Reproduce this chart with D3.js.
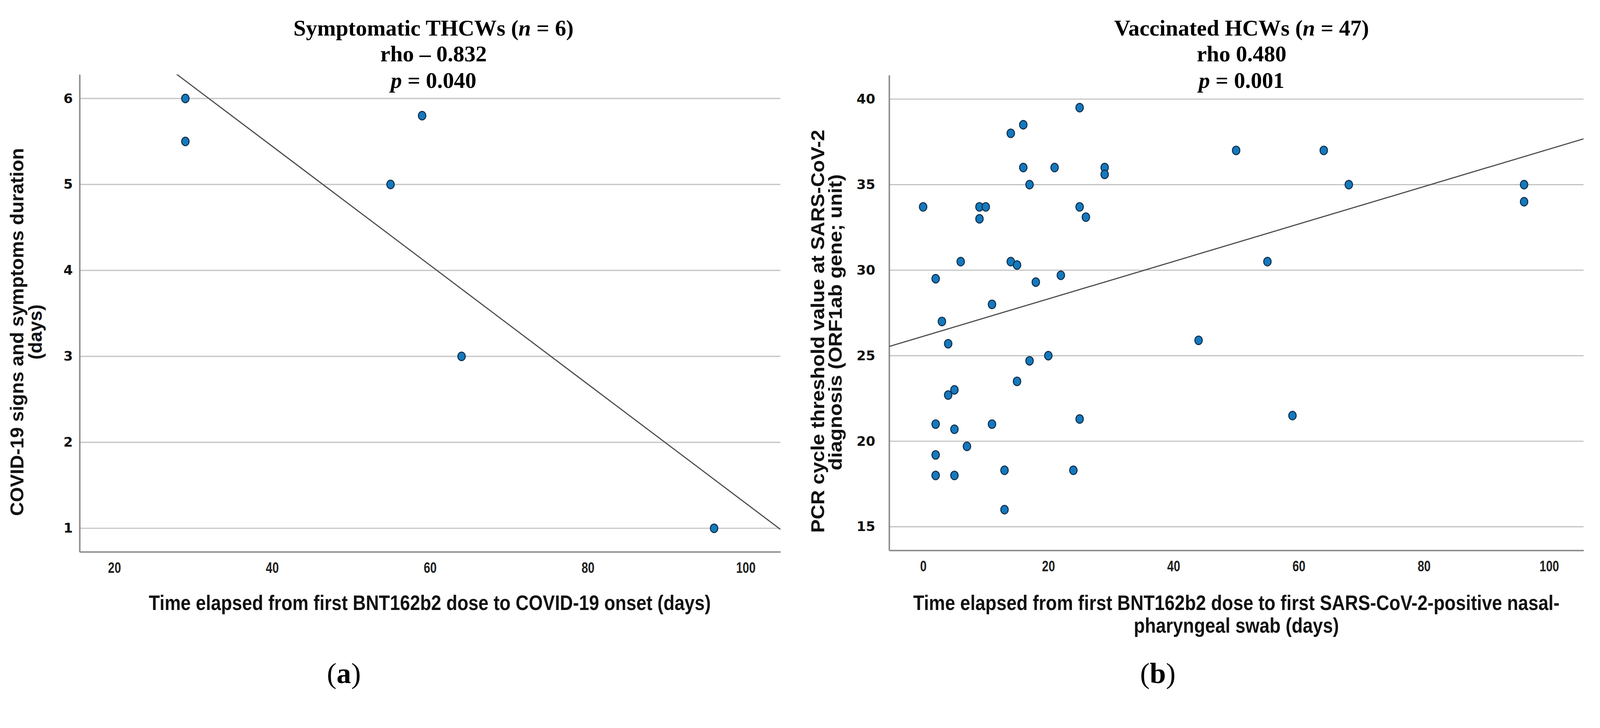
<!DOCTYPE html>
<html>
<head>
<meta charset="utf-8">
<script src="https://cdn.jsdelivr.net/npm/d3@7"></script>
<style>
  html, body { margin: 0; padding: 0; background: #fff; overflow: hidden; }
  svg { display: block; width: 100vw; height: 100vh; }
</style>
</head>
<body>
<svg id="chart" viewBox="0 0 4281 1863" preserveAspectRatio="xMidYMin meet"></svg>
<script>
// panel (a): symptomatic HCWs
const daysA = [29, 29, 55, 59, 64, 96];
const durationA = [6, 5.5, 5, 5.8, 3, 1];
const xTicksA = [20, 40, 60, 80, 100];
const yTicksA = [1, 2, 3, 4, 5, 6];

// panel (b): vaccinated HCWs
const daysB = [25, 16, 14, 16, 21, 29, 29, 17, 0, 9, 10, 9, 25, 26,
  6, 14, 15, 2, 22, 18, 11, 3, 4, 20, 17, 15, 5, 4, 2, 11, 25, 5, 7, 2, 2, 5, 13, 24, 13,
  50, 64, 68, 96, 96, 55, 44, 59];
const ctB = [39.5, 38.5, 38, 36, 36, 36, 35.6, 35, 33.7, 33.7, 33.7, 33, 33.7, 33.1,
  30.5, 30.5, 30.3, 29.5, 29.7, 29.3, 28, 27, 25.7, 25, 24.7, 23.5, 23, 22.7, 21, 21, 21.3, 20.7, 19.7, 19.2, 18, 18, 18.3, 18.3, 16,
  37, 37, 35, 35, 34, 30.5, 25.9, 21.5];
const xTicksB = [0, 20, 40, 60, 80, 100];
const yTicksB = [15, 20, 25, 30, 35, 40];

const svg = d3.select("#chart");

function fit(xs, ys) {
  const mx = d3.mean(xs), my = d3.mean(ys);
  let sxy = 0, sxx = 0;
  xs.forEach((x, i) => { sxy += (x - mx) * (ys[i] - my); sxx += (x - mx) * (x - mx); });
  const b = sxy / sxx;
  return { b: b, a: my - b * mx };
}

// squeeze a text horizontally (in its own frame) to a wanted length
function squeeze(sel, base, len) {
  const w = sel.node().getComputedTextLength();
  sel.attr("transform", base + ` scale(${len / w},1)`);
}

function drawPanel(cfg) {
  const x = d3.scaleLinear().domain(cfg.xDomain).range([cfg.left, cfg.right]);
  const y = d3.scaleLinear().domain(cfg.yDomain).range([cfg.bottom, cfg.top]);
  const g = svg.append("g");

  g.append("clipPath").attr("id", cfg.id + "clip")
    .append("rect")
    .attr("x", cfg.left).attr("y", cfg.top)
    .attr("width", cfg.right - cfg.left).attr("height", cfg.bottom - cfg.top);

  // gridlines
  g.selectAll(".grid").data(cfg.yTicks).enter().append("line")
    .attr("x1", cfg.left).attr("x2", cfg.right)
    .attr("y1", d => y(d)).attr("y2", d => y(d))
    .attr("stroke", "#c2c2c2").attr("stroke-width", 3);

  // y axis
  const ya = g.append("g").attr("transform", `translate(${cfg.left},0)`)
    .call(d3.axisLeft(y).tickValues(cfg.yTicks).tickFormat(d3.format("d"))
      .tickSize(0).tickSizeOuter(0).tickPadding(cfg.yPad));
  ya.attr("font-family", null).attr("font-size", null);
  ya.select(".domain").attr("stroke", "#8c8c8c").attr("stroke-width", 4);
  ya.selectAll("text")
    .attr("font-family", "DejaVu Sans, sans-serif").attr("font-weight", "bold")
    .attr("font-size", 36).attr("fill", "#111");

  // x axis
  const xa = g.append("g").attr("transform", `translate(0,${cfg.bottom})`)
    .call(d3.axisBottom(x).tickValues(cfg.xTicks).tickFormat(d3.format("d"))
      .tickSize(0).tickSizeOuter(0).tickPadding(28));
  xa.attr("font-family", null).attr("font-size", null);
  xa.select(".domain").attr("stroke", "#8c8c8c").attr("stroke-width", 4);
  xa.selectAll("text")
    .attr("font-family", "Liberation Sans, Arial, sans-serif")
    .attr("font-weight", "bold").attr("font-size", 40).attr("fill", "#222")
    .attr("transform", "scale(0.78,1)");

  // regression line
  const r = fit(cfg.xs, cfg.ys);
  const x0 = cfg.xDomain[0], x1 = cfg.xDomain[1];
  g.append("line")
    .attr("clip-path", `url(#${cfg.id}clip)`)
    .attr("x1", x(x0)).attr("y1", y(r.a + r.b * x0))
    .attr("x2", x(x1)).attr("y2", y(r.a + r.b * x1))
    .attr("stroke", "#4a4a4a").attr("stroke-width", 3);

  // points
  g.selectAll(".pt").data(cfg.xs.map((d, i) => [d, cfg.ys[i]])).enter().append("ellipse")
    .attr("cx", d => x(d[0])).attr("cy", d => y(d[1]))
    .attr("rx", 10).attr("ry", 11.5)
    .attr("fill", "#1579bd").attr("stroke", "#0d2b48").attr("stroke-width", 2.5);

  // titles
  const cx = cfg.titleX;
  const serif = "Liberation Serif, Times New Roman, serif";
  const t1 = g.append("text").attr("x", cx).attr("y", 95).attr("text-anchor", "middle")
    .attr("font-family", serif).attr("font-weight", "bold").attr("font-size", 60);
  t1.append("tspan").text(cfg.group + " (");
  t1.append("tspan").attr("font-style", "italic").text("n");
  t1.append("tspan").text(" = " + cfg.n + ")");
  g.append("text").attr("x", cx).attr("y", 164).attr("text-anchor", "middle")
    .attr("font-family", serif).attr("font-weight", "bold").attr("font-size", 60)
    .text("rho " + cfg.rho);
  const t3 = g.append("text").attr("x", cx).attr("y", 235).attr("text-anchor", "middle")
    .attr("font-family", serif).attr("font-weight", "bold").attr("font-size", 60);
  t3.append("tspan").attr("font-style", "italic").text("p");
  t3.append("tspan").text(" = " + cfg.p);

  // axis titles
  const sans = "Liberation Sans, Arial, sans-serif";
  cfg.yTitle.forEach(line => {
    const base = `translate(${line.x},${line.cy}) rotate(-90)`;
    const t = g.append("text")
      .attr("transform", base)
      .attr("text-anchor", "middle").attr("font-family", sans).attr("font-weight", "bold")
      .attr("font-size", 50).attr("fill", "#111").text(line.text);
    if (line.len) squeeze(t, base, line.len);
  });
  cfg.xTitle.forEach(line => {
    const base = `translate(${cfg.xTitleX},${line.y})`;
    const t = g.append("text").attr("transform", base)
      .attr("text-anchor", "middle").attr("font-family", sans).attr("font-weight", "bold")
      .attr("font-size", 56).attr("fill", "#111")
      .text(line.text);
    squeeze(t, base, line.len);
  });

  // panel label
  const lab = g.append("text").attr("x", cfg.labelX).attr("y", 1827).attr("text-anchor", "middle")
    .attr("font-family", serif).attr("font-size", 78);
  lab.append("tspan").text("(");
  lab.append("tspan").attr("font-weight", "bold").text(cfg.label);
  lab.append("tspan").text(")");
}

drawPanel({
  id: "a", xs: daysA, ys: durationA,
  left: 213, right: 2088, top: 199, bottom: 1476,
  xDomain: [15.6, 104.4], yDomain: [0.726, 6.28],
  xTicks: xTicksA, yTicks: yTicksA, yPad: 18,
  titleX: 1160, group: "Symptomatic THCWs", n: 6, rho: "\u2013 0.832", p: "0.040",
  yTitle: [
    { text: "COVID-19 signs and symptoms duration", x: 63, cy: 888, len: 984 },
    { text: "(days)", x: 112, cy: 888 }
  ],
  xTitleX: 1150,
  xTitle: [{ text: "Time elapsed from first BNT162b2 dose to COVID-19 onset (days)", y: 1632, len: 1504 }],
  labelX: 920, label: "a"
});

drawPanel({
  id: "b", xs: daysB, ys: ctB,
  left: 2379, right: 4237, top: 201, bottom: 1472,
  xDomain: [-5.43, 105.5], yDomain: [13.62, 41.4],
  xTicks: xTicksB, yTicks: yTicksB, yPad: 37,
  titleX: 3322, group: "Vaccinated HCWs", n: 47, rho: "0.480", p: "0.001",
  yTitle: [
    { text: "PCR cycle threshold value at SARS-CoV-2", x: 2205, cy: 886, len: 1078 },
    { text: "diagnosis (ORF1ab gene; unit)", x: 2252, cy: 862, len: 792 }
  ],
  xTitleX: 3308,
  xTitle: [
    { text: "Time elapsed from first BNT162b2 dose to first SARS-CoV-2-positive nasal-", y: 1632, len: 1730 },
    { text: "pharyngeal swab (days)", y: 1692, len: 549 }
  ],
  labelX: 3098, label: "b"
});
</script>
</body>
</html>
